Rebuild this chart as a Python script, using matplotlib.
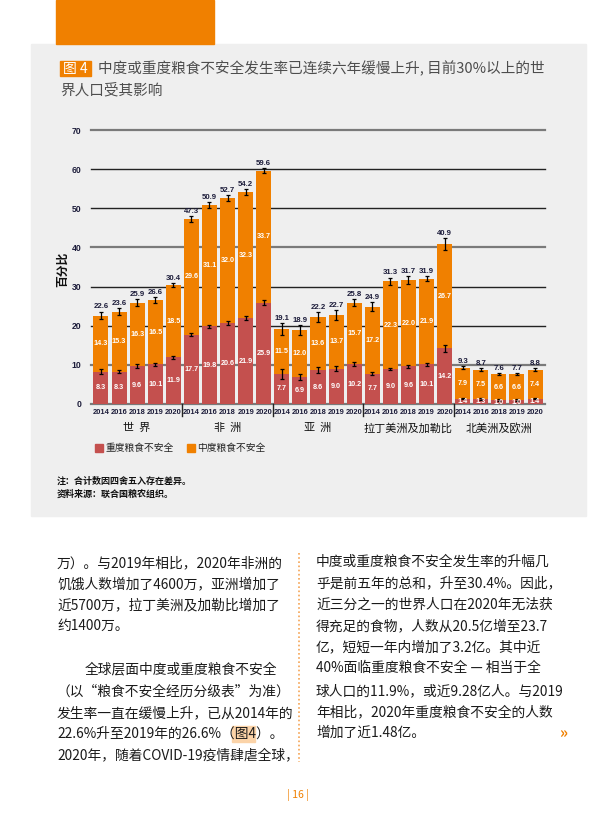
import numpy as np
import matplotlib
matplotlib.use("Agg")
import matplotlib.pyplot as plt
from matplotlib.patches import Rectangle
from matplotlib.transforms import blended_transform_factory

plt.rcParams['font.family'] = ['Noto Sans CJK SC', 'DejaVu Sans']
NUM_FONT = ["Liberation Sans", "DejaVu Sans"]

# ---- data ----
regions = ["世  界", "非  洲", "亚  洲", "拉丁美洲及加勒比", "北美洲及欧洲"]
years = ["2014", "2016", "2018", "2019", "2020"]

severe = {
    "世  界": [8.3, 8.3, 9.6, 10.1, 11.9],
    "非  洲": [17.7, 19.8, 20.6, 21.9, 25.9],
    "亚  洲": [7.7, 6.9, 8.6, 9.0, 10.2],
    "拉丁美洲及加勒比": [7.7, 9.0, 9.6, 10.1, 14.2],
    "北美洲及欧洲": [1.4, 1.3, 1.0, 1.0, 1.4],
}
moderate = {
    "世  界": [14.3, 15.3, 16.3, 16.5, 18.5],
    "非  洲": [29.6, 31.1, 32.0, 32.3, 33.7],
    "亚  洲": [11.5, 12.0, 13.6, 13.7, 15.7],
    "拉丁美洲及加勒比": [17.2, 22.3, 22.0, 21.9, 26.7],
    "北美洲及欧洲": [7.9, 7.5, 6.6, 6.6, 7.4],
}
totals = {
    "世  界": [22.6, 23.6, 25.9, 26.6, 30.4],
    "非  洲": [47.3, 50.9, 52.7, 54.2, 59.6],
    "亚  洲": [19.1, 18.9, 22.2, 22.7, 25.8],
    "拉丁美洲及加勒比": [24.9, 31.3, 31.7, 31.9, 40.9],
    "北美洲及欧洲": [9.3, 8.7, 7.6, 7.7, 8.8],
}
# error bar half-widths (estimated)
err_total = {
    "世  界": [1.0, 0.8, 0.8, 0.8, 0.5],
    "非  洲": [0.8, 0.7, 0.8, 0.8, 0.6],
    "亚  洲": [1.5, 1.3, 1.3, 1.3, 0.8],
    "拉丁美洲及加勒比": [1.2, 1.0, 1.0, 0.7, 1.5],
    "北美洲及欧洲": [0.3, 0.3, 0.3, 0.3, 0.3],
}
err_severe = {
    "世  界": [0.6, 0.5, 0.5, 0.5, 0.3],
    "非  洲": [0.4, 0.4, 0.5, 0.5, 0.6],
    "亚  洲": [1.2, 0.8, 0.8, 0.6, 0.5],
    "拉丁美洲及加勒比": [0.4, 0.3, 0.3, 0.3, 0.8],
    "北美洲及欧洲": [0.2, 0.2, 0.2, 0.2, 0.2],
}

RED = "#c4504e"
ORANGE = "#f08000"
PANEL = "#efefef"
NAVY = "#1c1c3a"

W, H = 604, 831
fig = plt.figure(figsize=(W / 100, H / 100), dpi=100)
fig.patch.set_facecolor("white")


def fx(x):
    return x / W


def fy(y):
    return 1 - y / H


def box(x0, y0, x1, y1, color, z=-1):
    fig.patches.append(Rectangle((fx(x0), fy(y1)), fx(x1 - x0), (y1 - y0) / H,
                                 transform=fig.transFigure, color=color, zorder=z))


# page decorations
box(31, 44, 586, 516, PANEL, z=-2)
box(56, 0, 214, 44, ORANGE)
box(60, 61, 91, 76, ORANGE)
fig.text(fx(75.5), fy(68.5), "图 4", color="white", fontsize=10, ha="center", va="center")
fig.text(fx(98), fy(68.5), "中度或重度粮食不安全发生率已连续六年缓慢上升, 目前30%以上的世",
         color="#4d4d4d", fontsize=10.5, va="center")
fig.text(fx(60), fy(90), "界人口受其影响", color="#4d4d4d", fontsize=10.5, va="center")

# ---- chart ----
ax = fig.add_axes([fx(91), fy(404), fx(545 - 91), (404 - 130) / H])
ax.set_facecolor("none")
ax.set_zorder(1)

sev = np.concatenate([severe[r] for r in regions])
mod = np.concatenate([moderate[r] for r in regions])
tot = np.concatenate([totals[r] for r in regions])
et = np.concatenate([err_total[r] for r in regions])
es = np.concatenate([err_severe[r] for r in regions])
x = np.arange(len(sev))

for v in range(0, 71, 10):
    col = "#7a7a7a" if v in (0, 10, 40, 70) else "#222222"
    lw = 1.6 if v in (0, 10, 40, 70) else 1.0
    ax.axhline(v, color=col, lw=lw, zorder=1, clip_on=False)

ax.bar(x, sev, width=0.83, color=RED, zorder=2)
ax.bar(x, mod, width=0.83, bottom=sev, color=ORANGE, zorder=2)
ax.errorbar(x, sev, yerr=es, fmt="none", ecolor="black", elinewidth=0.9,
            capsize=1.6, capthick=0.9, zorder=3)
ax.errorbar(x, sev + mod, yerr=et, fmt="none", ecolor="black", elinewidth=0.9,
            capsize=1.6, capthick=0.9, zorder=3)

for i in range(len(x)):
    ax.text(x[i], sev[i] / 2, f"{sev[i]:.1f}", color="white", fontsize=5.2, family=NUM_FONT,
            ha="center", va="center", fontweight="bold", zorder=4)
    ax.text(x[i], sev[i] + mod[i] / 2, f"{mod[i]:.1f}", color="white", fontsize=5.2,
            family=NUM_FONT, ha="center", va="center", fontweight="bold", zorder=4)
    ax.text(x[i], sev[i] + mod[i] + et[i] + 0.3, f"{tot[i]:.1f}", color=NAVY, family=NUM_FONT,
            fontsize=5.6, ha="center", va="bottom", fontweight="bold", zorder=4)

ax.set_xlim(-0.55, len(x) - 0.45)
ax.set_ylim(0, 70)
ax.set_yticks(range(0, 71, 10))
ax.set_yticklabels([str(v) for v in range(0, 71, 10)], fontsize=6.2, fontweight="bold",
                   color=NAVY, family=NUM_FONT)
ax.set_xticks(x)
ax.set_xticklabels(years * len(regions), fontsize=5.4, fontweight="bold", color=NAVY,
                   family=NUM_FONT)
ax.tick_params(length=0, pad=3.5)
ax.tick_params(axis="y", pad=7)
for s in ax.spines.values():
    s.set_visible(False)

tr = blended_transform_factory(ax.transData, ax.transAxes)
for b in (4.5, 9.5, 14.5, 19.5):
    ax.plot([b, b], [0, -0.045], color="#222222", lw=1.0, transform=tr, clip_on=False)
for k, r in enumerate(regions):
    ax.text(k * 5 + 2, -0.088, r, transform=tr, ha="center", va="center",
            fontsize=8, color="#111111")

ax.text(-0.062, 0.49, "百分比", transform=ax.transAxes, rotation=90, ha="center",
        va="center", fontsize=8.5, color="#111111", fontweight="bold")

# legend
box(95, 444, 103, 452, RED)
fig.text(fx(105), fy(448), "重度粮食不安全", fontsize=7, va="center", color="#222222")
box(187, 444, 195, 452, ORANGE)
fig.text(fx(197), fy(448), "中度粮食不安全", fontsize=7, va="center", color="#222222")

fig.text(fx(57), fy(481), "注：合计数因四舍五入存在差异。", fontsize=6.5, va="center",
         color="#111111", fontweight="bold")
fig.text(fx(57), fy(494), "资料来源：联合国粮农组织。", fontsize=6.5, va="center",
         color="#111111", fontweight="bold")

# ---- body text ----
left_lines = [
    (57, 563, "万）。与2019年相比，2020年非洲的"),
    (57, 584, "饥饿人数增加了4600万，亚洲增加了"),
    (57, 605, "近5700万，拉丁美洲及加勒比增加了"),
    (57, 626, "约1400万。"),
    (85, 669, "全球层面中度或重度粮食不安全"),
    (57, 692, "（以“粮食不安全经历分级表”为准）"),
    (57, 713, "发生率一直在缓慢上升，已从2014年的"),
    (57, 734, "22.6%升至2019年的26.6%（图4）。"),
    (57, 755, "2020年，随着COVID-19疫情肆虐全球，"),
]
right_lines = [
    (316, 562, "中度或重度粮食不安全发生率的升幅几"),
    (316, 583, "乎是前五年的总和，升至30.4%。因此，"),
    (316, 605, "近三分之一的世界人口在2020年无法获"),
    (316, 626, "得充足的食物，人数从20.5亿增至23.7"),
    (316, 647, "亿，短短一年内增加了3.2亿。其中近"),
    (316, 668, "40%面临重度粮食不安全 — 相当于全"),
    (316, 691, "球人口的11.9%，或近9.28亿人。与2019"),
    (316, 712, "年相比，2020年重度粮食不安全的人数"),
    (316, 733, "增加了近1.48亿。"),
]
for xx, yy, s in left_lines + right_lines:
    fig.text(fx(xx), fy(yy), s, fontsize=9.9, va="center", color="#1a1a1a")

# highlighted figure reference
box(232, 726, 255, 742, "#fbd3a8")

# dotted column divider
fig.add_artist(plt.Line2D([fx(299), fx(299)], [fy(553), fy(762)], transform=fig.transFigure,
                          color="#f5a455", lw=1.2, linestyle=(0, (1, 1.5))))
fig.text(fx(563), fy(733), "»", fontsize=11, color=ORANGE, ha="center", va="center",
         fontweight="bold")
fig.text(fx(298), fy(795), "| 16 |", fontsize=7.5, color=ORANGE, ha="center", va="center")

fig.savefig("out.png", dpi=100)
